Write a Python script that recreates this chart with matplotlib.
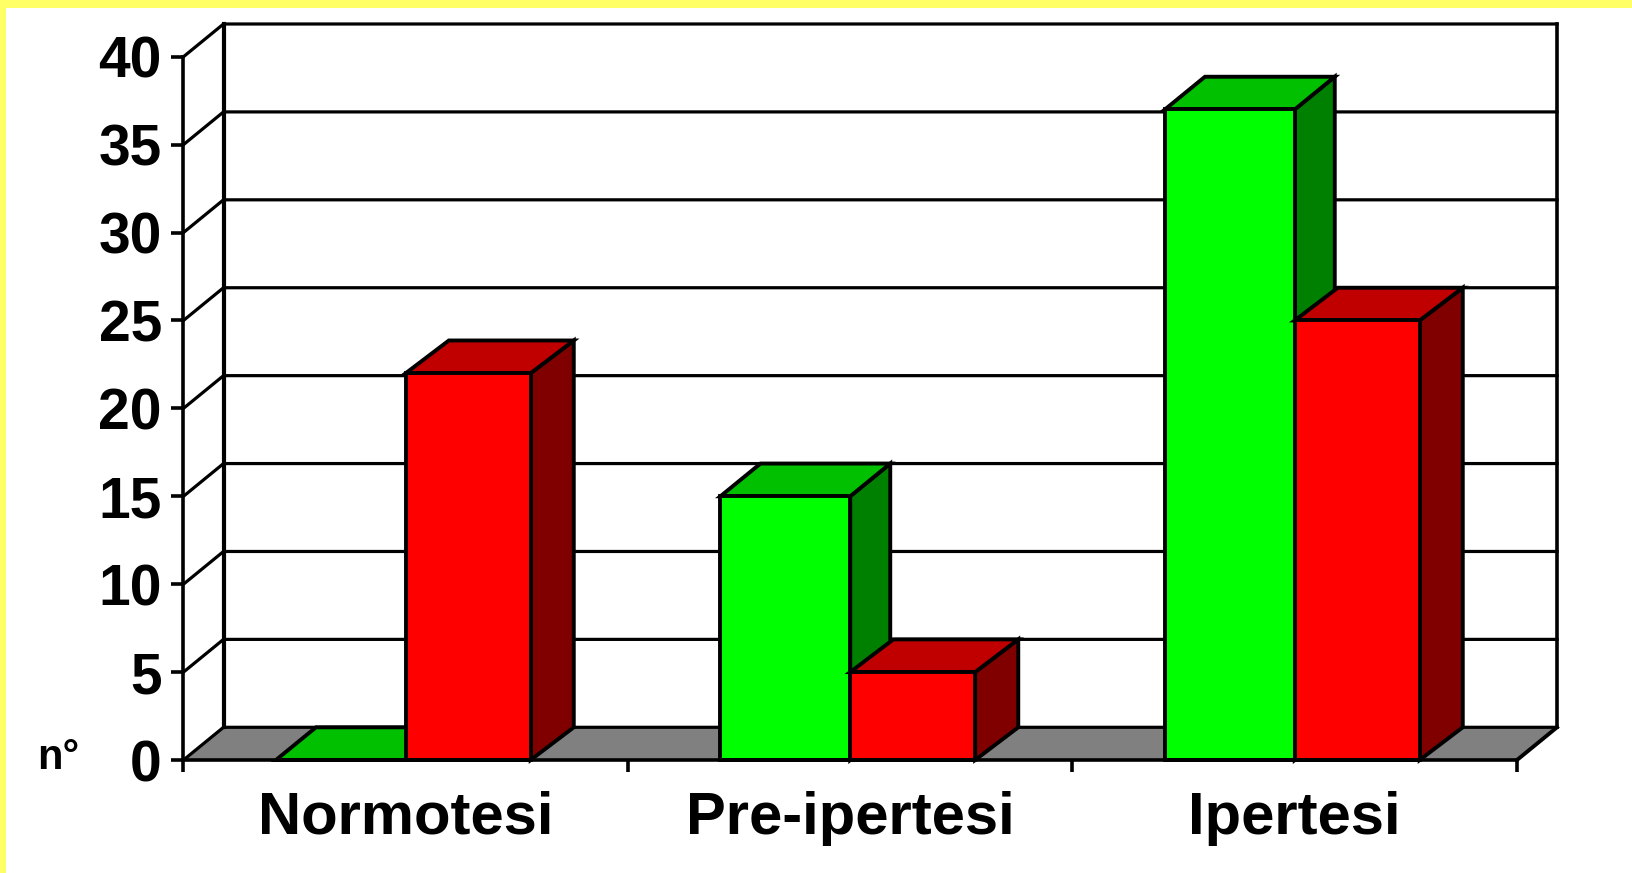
import matplotlib
matplotlib.use("Agg")
import matplotlib.pyplot as plt
from matplotlib.patches import Polygon, Rectangle

categories = ["Normotesi", "Pre-ipertesi", "Ipertesi"]
green_values = [0, 15, 37]
red_values = [22, 5, 25]
y_ticks = [0, 5, 10, 15, 20, 25, 30, 35, 40]

plt.rcParams['font.family'] = ['Liberation Sans', 'DejaVu Sans']
plt.rcParams['font.weight'] = 'bold'

W, H = 1633, 873
LW = 2.8
GRID_LW = 2.3

# depth of the fake 3d box, in data units
dx = 0.09
red_dx = 0.097
dy = 1.86
green_w = 0.292
red_w = 0.281


def box(ax, left, width, depth, value, front, side, top):
    right = left + width
    ax.add_patch(Polygon([(right, 0), (right + depth, dy), (right + depth, value + dy), (right, value)],
                         facecolor=side, edgecolor='black', lw=LW, zorder=4,
                         clip_on=False, joinstyle='miter'))
    ax.add_patch(Polygon([(left, value), (right, value), (right + depth, value + dy), (left + depth, value + dy)],
                         facecolor=top, edgecolor='black', lw=LW, zorder=4,
                         clip_on=False, joinstyle='miter'))
    ax.add_patch(Polygon([(left, 0), (right, 0), (right, value), (left, value)],
                         facecolor=front, edgecolor='black', lw=LW, zorder=4,
                         clip_on=False, joinstyle='miter'))


fig = plt.figure(figsize=(W / 100, H / 100), dpi=100, facecolor='#FFFF66')
fig.patches.append(Rectangle((6 / W, 0), 1 - 6 / W, 1 - 8 / H, transform=fig.transFigure,
                             facecolor='white', edgecolor='none', zorder=-1))

ax = fig.add_axes([183.5 / W, 1 - 760 / H, (1517 - 183.5) / W, (760 - 56.7) / H])
ax.patch.set_visible(False)
ax.set_xlim(0, 3)
ax.set_ylim(0, 40)

# floor
ax.add_patch(Polygon([(0, 0), (3, 0), (3 + dx, dy), (dx, dy)], facecolor='#808080',
                     edgecolor='none', zorder=1, clip_on=False))

# back wall and side wall lines
for v in y_ticks:
    ax.plot([0, dx, 3 + dx], [v, v + dy, v + dy], color='black', lw=GRID_LW,
            zorder=2, clip_on=False, solid_joinstyle='miter')
ax.plot([dx, dx], [dy, 40 + dy], color='black', lw=LW + 0.2, zorder=2, clip_on=False)
ax.plot([3 + dx, 3 + dx], [dy, 40 + dy], color='black', lw=LW - 0.2, zorder=2, clip_on=False)
ax.plot([3, 3 + dx], [0, dy], color='black', lw=LW, zorder=2, clip_on=False)

for i in range(len(categories)):
    center = i + 0.5
    box(ax, center - green_w, green_w, dx, green_values[i], '#00FF00', '#008000', '#00C000')
    box(ax, center, red_w, red_dx, red_values[i], '#FF0000', '#800000', '#C00000')

for s in ['top', 'right']:
    ax.spines[s].set_visible(False)
for s in ['left', 'bottom']:
    ax.spines[s].set_linewidth(LW - 0.2)
    ax.spines[s].set_zorder(5)

ax.set_yticks(y_ticks)
ax.set_yticklabels([str(v) for v in y_ticks], fontsize=41, fontweight='bold')
ax.tick_params(axis='y', length=8.5, width=LW - 0.2, pad=7)

ax.set_xticks([0, 1, 2, 3])
ax.set_xticklabels([])
ax.tick_params(axis='x', which='major', length=8.5, width=LW - 0.2)
ax.set_xticks([0.5, 1.5, 2.5], minor=True)
ax.set_xticklabels(categories, minor=True, fontsize=43, fontweight='bold')
ax.tick_params(axis='x', which='minor', length=0, pad=22)

fig.text(37 / W, 1 - 769 / H, "n°", fontsize=30, fontweight='bold', ha='left', va='baseline')

fig.savefig("out.png", dpi=100)
